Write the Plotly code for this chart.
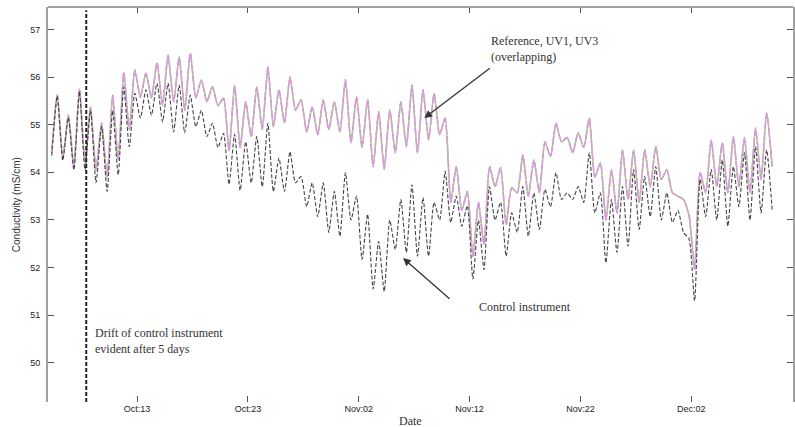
import pandas as pd
import plotly.graph_objects as go

# half-daily samples (alternating trough / peak), starting 2009-10-05 07:12
start_time = "2009-10-05 07:12"
step = "12h"

reference = [
    54.41, 55.63, 54.30, 55.20, 54.12, 55.75, 54.22, 55.37, 54.05, 55.04,
    53.90, 55.62, 54.26, 56.10, 54.90, 56.15, 55.58, 56.08, 55.56, 56.30,
    55.41, 56.46, 55.48, 56.42, 55.30, 56.50, 55.56, 55.94, 55.48, 55.80,
    55.40, 55.56, 54.45, 55.83, 54.52, 55.48, 54.75, 55.79, 54.90, 56.21,
    54.96, 55.73, 55.04, 56.00, 55.31, 55.52, 54.85, 55.37, 54.79, 55.52,
    54.90, 55.48, 54.85, 55.94, 54.62, 55.58, 54.52, 55.52, 54.12, 55.27,
    54.06, 55.31, 54.41, 55.48, 54.54, 55.83, 54.41, 55.73, 54.68, 55.66,
    54.79, 55.14, 53.37, 54.12, 53.20, 53.60, 52.24, 53.37, 52.48, 54.12,
    53.70, 54.10, 52.90, 53.68, 53.57, 54.37, 53.50, 54.26, 53.57, 54.64,
    54.33, 55.03, 54.64, 54.73, 54.41, 54.83, 54.52, 55.14, 53.90, 54.20,
    53.00, 54.06, 53.15, 54.47, 53.43, 54.47, 53.37, 54.47, 53.70, 54.54,
    53.85, 54.06, 53.57, 53.50, 53.43, 53.10, 51.96, 54.00, 53.57, 54.68,
    53.70, 54.62, 53.57, 54.75, 53.70, 54.73, 53.57, 54.93, 53.85, 55.25,
    54.12,
]
# UV1 and UV3 overlap the reference record
uv1 = list(reference)
uv3 = list(reference)

control = [
    54.35, 55.60, 54.25, 55.15, 54.05, 55.70, 54.05, 55.30, 53.78, 54.96,
    53.60, 55.30, 53.95, 55.79, 54.54, 55.66, 55.14, 55.73, 55.20, 55.87,
    55.06, 55.87, 54.85, 55.83, 54.83, 55.62, 54.96, 55.30, 54.75, 55.03,
    54.52, 54.82, 53.75, 54.80, 53.62, 54.64, 53.78, 54.75, 53.70, 55.03,
    53.60, 54.30, 53.60, 54.43, 53.78, 53.91, 53.28, 53.78, 53.07, 53.78,
    52.74, 53.60, 52.66, 53.99, 53.00, 53.50, 52.17, 53.12, 51.55, 52.55,
    51.50, 53.00, 52.38, 53.43, 52.32, 53.74, 52.24, 53.47, 52.24, 53.37,
    53.00, 54.02, 52.95, 53.50, 52.87, 53.30, 51.76, 53.00, 51.96, 53.70,
    53.00, 53.37, 52.24, 53.15, 52.74, 53.70, 52.66, 53.57, 52.80, 53.64,
    53.28, 53.99, 53.43, 53.57, 53.43, 53.70, 53.37, 54.41, 53.15, 53.57,
    52.10, 53.43, 52.32, 53.70, 52.45, 54.06, 52.80, 53.91, 53.07, 54.12,
    53.00, 53.57, 52.95, 53.20, 52.74, 52.60, 51.30, 53.85, 53.07, 54.06,
    53.00, 54.26, 52.87, 54.12, 53.28, 54.41, 53.00, 54.54, 53.15, 54.47,
    53.22,
]

tick_dates = ["2009-10-13", "2009-10-23", "2009-11-02", "2009-11-12", "2009-11-22", "2009-12-02"]
tick_labels = ["Oct:13", "Oct:23", "Nov:02", "Nov:12", "Nov:22", "Dec:02"]
y_ticks = [50, 51, 52, 53, 54, 55, 56, 57]

drift_date = "2009-10-08 10:00"

times = pd.date_range(start=start_time, periods=len(reference), freq=step)

fig = go.Figure()
fig.add_trace(go.Scatter(x=times, y=uv1, mode="lines", name="UV1",
                         line=dict(color="#a8d47c", width=1.6, shape="spline", smoothing=0.6)))
fig.add_trace(go.Scatter(x=times, y=uv3, mode="lines", name="UV3",
                         line=dict(color="#7a7ae0", width=1.2, dash="2px,9px", shape="spline", smoothing=0.6)))
fig.add_trace(go.Scatter(x=times, y=reference, mode="lines", name="Reference",
                         line=dict(color="#dc9ade", width=1.5, dash="9px,2px", shape="spline", smoothing=0.6)))
fig.add_trace(go.Scatter(x=times, y=control, mode="lines", name="Control",
                         line=dict(color="#444444", width=1.1, dash="4px,2px", shape="spline", smoothing=0.6)))

# vertical drift marker
fig.add_shape(type="line", xref="x", yref="paper", x0=drift_date, x1=drift_date, y0=0, y1=0.992,
              line=dict(color="#222222", width=2, dash="4px,2px"))
# top frame line
fig.add_shape(type="line", xref="paper", yref="paper", x0=0, x1=1, y0=1, y1=1,
              line=dict(color="#a0a0a0", width=2))

serif = dict(family="Liberation Serif, Times New Roman, serif", size=12, color="#333333")
fig.add_annotation(x="2009-11-13 18:00", y=56.58, xref="x", yref="y", text="Reference, UV1, UV3<br>(overlapping)",
                   showarrow=False, xanchor="left", align="left", font=serif)
fig.add_annotation(x="2009-11-07 22:00", y=55.14, ax=67, ay=-51,
                   xref="x", yref="y", text="", showarrow=True, arrowhead=2, arrowsize=1.2,
                   arrowwidth=1.3, arrowcolor="#333333")
fig.add_annotation(x="2009-11-12 17:00", y=51.17, xref="x", yref="y", text="Control instrument",
                   showarrow=False, xanchor="left", font=serif)
fig.add_annotation(x="2009-11-06 00:00", y=52.2, xref="x", yref="y", text="",
                   showarrow=True, ax=48, ay=42,
                   arrowhead=2, arrowsize=1.2, arrowwidth=1.3, arrowcolor="#333333")
fig.add_annotation(x="2009-10-09 00:00", y=50.45, xref="x", yref="y",
                   text="Drift of control instrument<br>evident after 5 days",
                   showarrow=False, xanchor="left", align="left", font=serif)

sans = dict(family="Liberation Sans, Arial, sans-serif", size=10, color="#333333")
fig.add_annotation(x=0.487, y=-0.048, xref="paper", yref="paper", text="Date", showarrow=False,
                   yanchor="middle", font=dict(family="Liberation Serif, serif", size=12, color="#333333"))
fig.add_annotation(x=-0.042, y=0.5, xref="paper", yref="paper", text="Conductivity (mS/cm)",
                   showarrow=False, textangle=-90, xanchor="center", font=sans)

fig.update_layout(
    width=795, height=427,
    margin=dict(l=48, r=0, t=7, b=25),
    paper_bgcolor="white", plot_bgcolor="white",
    showlegend=False,
    xaxis=dict(range=["2009-10-04 23:10", "2009-12-11 04:20"], tickvals=tick_dates, ticktext=tick_labels,
               ticks="inside", ticklen=6, tickcolor="#555555", mirror="ticks", showline=False,
               showgrid=False, zeroline=False,
               tickfont=dict(family="Liberation Sans, Arial, sans-serif", size=9, color="#222222")),
    yaxis=dict(range=[49.18, 57.47], tickvals=y_ticks, ticks="inside", ticklen=6, tickcolor="#555555",
               mirror="ticks", showline=True, linecolor="#a0a0a0", linewidth=2,
               showgrid=False, zeroline=False, ticklabelstandoff=4,
               tickfont=dict(family="Liberation Sans, Arial, sans-serif", size=9, color="#222222")),
)

fig.write_html("out.html", post_script="document.body.style.margin='0px';",
               config={"displayModeBar": False})
